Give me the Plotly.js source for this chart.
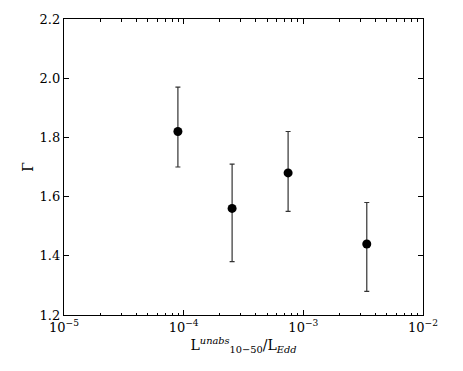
<!DOCTYPE html>
<html>
<head>
<meta charset="utf-8">
<script src="https://cdn.plot.ly/plotly-3.0.1.min.js"></script>
<style>
  html, body { margin: 0; padding: 0; background: #fff; }
  #plot { width: 463px; height: 371px; }
</style>
</head>
<body>
<div id="plot"></div>
<script>
// luminosity ratio vs photon index
let lum = [8.95e-5, 2.54e-4, 7.46e-4, 3.39e-3];
let gamma = [1.82, 1.56, 1.68, 1.44];
let errUp = [0.15, 0.15, 0.14, 0.14];
let errDown = [0.12, 0.18, 0.13, 0.16];

let majorTicks = [1e-5, 1e-4, 1e-3, 1e-2];
let majorLabels = ["10<sup>−5</sup>", "10<sup>−4</sup>", "10<sup>−3</sup>", "10<sup>−2</sup>"];

// minor ticks 2..9 in each decade
let minorTicks = [];
[1e-5, 1e-4, 1e-3].forEach(d => {
    for (let k = 2; k <= 9; k++) minorTicks.push(k * d);
});

let trace = {
    x: lum,
    y: gamma,
    mode: "markers",
    type: "scatter",
    marker: { color: "#000", size: 9 },
    error_y: {
        type: "data",
        symmetric: false,
        array: errUp,
        arrayminus: errDown,
        color: "#333",
        thickness: 1.2,
        width: 2.5
    },
    showlegend: false
};

let serif = "DejaVu Serif, Liberation Serif, serif";

let layout = {
    width: 463,
    height: 371,
    margin: { l: 64, r: 40, t: 19, b: 56 },
    paper_bgcolor: "#fff",
    plot_bgcolor: "#fff",
    font: { family: serif, color: "#000", size: 13 },
    xaxis: {
        type: "log",
        range: [-5, -2],
        tickvals: majorTicks,
        ticktext: majorLabels,
        ticks: "inside",
        ticklen: 5,
        tickwidth: 1,
        tickcolor: "#000",
        showgrid: false,
        zeroline: false,
        showline: true,
        linecolor: "#000",
        linewidth: 1.2,
        mirror: "ticks",
        minor: { tickvals: minorTicks, ticks: "inside", ticklen: 2.5, tickcolor: "#000", showgrid: false },
        tickfont: { family: serif, size: 13 },
        title: {
            text: "L<sup><i>unabs</i></sup><sub>10−50</sub>/L<sub><i>Edd</i></sub>",
            font: { family: serif, size: 14 },
            standoff: 6
        }
    },
    yaxis: {
        range: [1.2, 2.2],
        tickvals: [1.2, 1.4, 1.6, 1.8, 2.0, 2.2],
        ticktext: ["1.2", "1.4", "1.6", "1.8", "2.0", "2.2"],
        ticks: "inside",
        ticklen: 5,
        tickwidth: 1,
        tickcolor: "#000",
        showgrid: false,
        zeroline: false,
        showline: true,
        linecolor: "#000",
        linewidth: 1.2,
        mirror: "ticks",
        tickfont: { family: serif, size: 13 },
        title: { text: "Γ", font: { family: serif, size: 14 }, standoff: 2 }
    }
};

Plotly.newPlot("plot", [trace], layout, { displayModeBar: false, staticPlot: true });
</script>
</body>
</html>
